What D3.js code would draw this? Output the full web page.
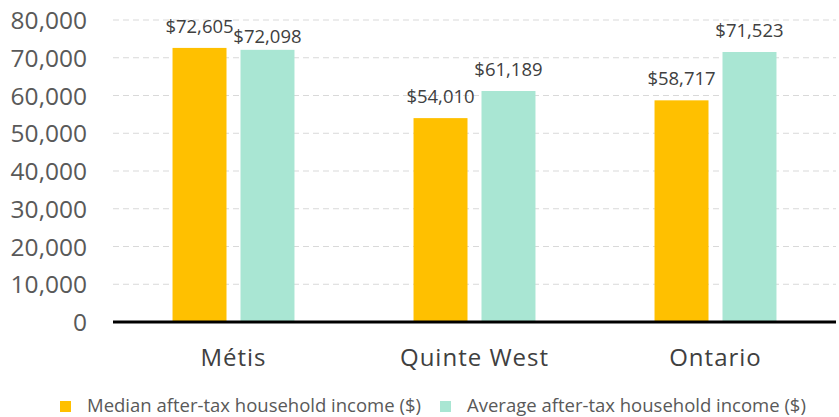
<!DOCTYPE html>
<html><head><meta charset="utf-8">
<script src="https://cdn.jsdelivr.net/npm/d3@7"></script>
<style>body{margin:0;background:#fff}svg{display:block}</style>
</head><body>
<svg id="chart" width="839" height="417"></svg>
<script>
const categories = ["Métis", "Quinte West", "Ontario"];
const seriesNames = ["Median after-tax household income ($)", "Average after-tax household income ($)"];
const medianValues = [72605, 54010, 58717];
const averageValues = [72098, 61189, 71523];
const yTicks = [0, 10000, 20000, 30000, 40000, 50000, 60000, 70000, 80000];
const colors = ["#FFC000", "#A9E6D3"];

(function () {
const svg = d3.select("#chart");
const mLeft = 113, mRight = 836, mTop = 20, mBottom = 322;
const font = "'Open Sans', sans-serif";

const y = d3.scaleLinear().domain([0, 80000]).range([mBottom, mTop]);
const x0 = d3.scaleBand().domain(categories).range([mLeft, mRight]).paddingInner(0.494).paddingOuter(0.247);
const x1 = d3.scaleBand().domain([0, 1]).range([0, x0.bandwidth()]).paddingInner(0.206).paddingOuter(0);

svg.append("g").selectAll("line").data(yTicks.filter(t => t > 0)).join("line")
  .attr("x1", mLeft).attr("x2", mRight)
  .attr("y1", d => y(d)).attr("y2", d => y(d))
  .attr("stroke", "#d9d9d9").attr("stroke-width", 1).attr("stroke-dasharray", "6,4");

const yAxis = d3.axisLeft(y).tickValues(yTicks).tickFormat(d3.format(",")).tickSize(0).tickPadding(0);
const ya = svg.append("g").attr("transform", "translate(87,0)").call(yAxis);
ya.select(".domain").remove();
ya.selectAll("text").attr("font-family", font).attr("font-size", 24.5).attr("fill", "#595959").attr("dy", "0.35em");

const data = categories.map((c, i) => ({cat: c, vals: [medianValues[i], averageValues[i]]}));

const groups = svg.append("g").selectAll("g").data(data).join("g")
  .attr("transform", d => `translate(${x0(d.cat)},0)`);

groups.selectAll("rect").data(d => d.vals.map((v, k) => ({v, k}))).join("rect")
  .attr("x", d => x1(d.k)).attr("width", x1.bandwidth())
  .attr("y", d => y(d.v)).attr("height", d => y(0) - y(d.v))
  .attr("fill", d => colors[d.k]);

const fmt = d3.format("$,");
groups.each(function () {
  const labels = d3.select(this).selectAll("text").data(d => d.vals.map((v, k) => ({v, k}))).join("text")
    .attr("x", d => x1(d.k) + x1.bandwidth() / 2)
    .attr("y", d => y(d.v) - 15)
    .attr("text-anchor", "middle")
    .attr("font-family", font).attr("font-size", 18.5).attr("fill", "#404040")
    .text(d => fmt(d.v));
  // nudge the second label down if it collides with the first
  const nodes = labels.nodes();
  const a = nodes[0].getBBox(), b = nodes[1].getBBox();
  if (b.x < a.x + a.width + 1 && Math.abs(a.y - b.y) < a.height) {
    d3.select(nodes[1]).attr("y", +d3.select(nodes[1]).attr("y") + 8);
  }
});

svg.append("line").attr("x1", mLeft).attr("x2", mRight).attr("y1", y(0)).attr("y2", y(0))
  .attr("stroke", "#000").attr("stroke-width", 3);

const xAxis = d3.axisBottom(x0).tickSize(0).tickPadding(0);
const xa = svg.append("g").attr("transform", `translate(0,${mBottom})`).call(xAxis);
xa.select(".domain").remove();
xa.selectAll("text").attr("font-family", font).attr("font-size", 24).attr("letter-spacing", 1).attr("fill", "#404040").attr("y", 44).attr("dy", 0);

const legendX = [60, 440];
const lg = svg.append("g").selectAll("g").data(seriesNames).join("g")
  .attr("transform", (d, i) => `translate(${legendX[i]},401)`);
lg.append("rect").attr("width", 11).attr("height", 11).attr("fill", (d, i) => colors[i]);
lg.append("text").attr("x", 27).attr("y", 11).attr("font-family", font).attr("font-size", 18.5).attr("fill", "#595959").text(d => d);
})();
</script>
</body></html>
